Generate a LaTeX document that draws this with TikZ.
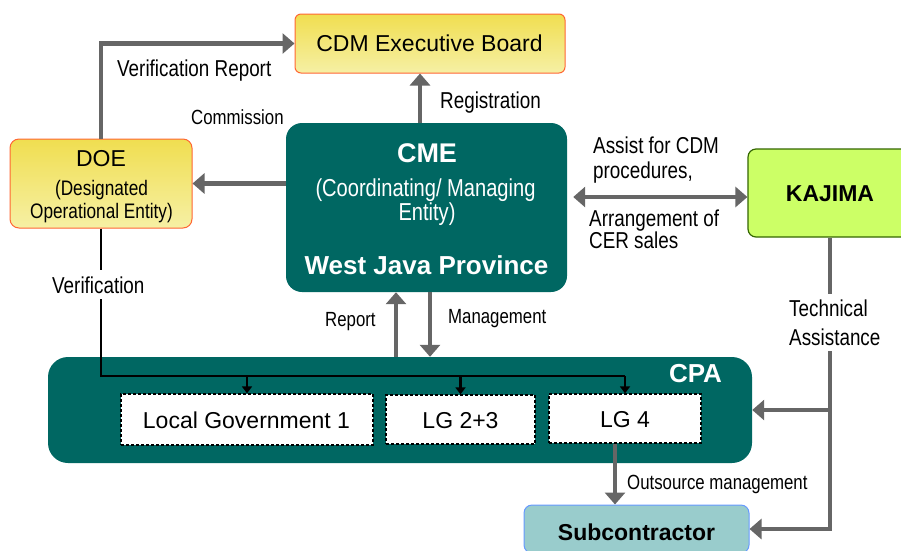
\documentclass[tikz,border=0pt]{standalone}
\usepackage{fontspec}
\setmainfont{Liberation Sans}
\newfontfamily\narrowfont[FakeStretch=0.82]{Liberation Sans}
\usetikzlibrary{arrows.meta,calc}
\definecolor{cteal}{RGB}{0,103,98}
\definecolor{cgray}{RGB}{102,102,102}
\definecolor{yelTop}{RGB}{240,222,80}
\definecolor{yelBot}{RGB}{246,240,165}
\definecolor{orgBorder}{RGB}{255,102,51}
\definecolor{kfill}{RGB}{204,255,102}
\definecolor{kborder}{RGB}{51,102,0}
\definecolor{sfill}{RGB}{153,204,204}
\definecolor{sborder}{RGB}{102,153,255}
\begin{document}
\begin{tikzpicture}[x=1pt,y=-1pt,
  ybox/.style={draw=orgBorder, line width=1pt, top color=yelTop, bottom color=yelBot, inner sep=0pt},
  tealbox/.style={fill=cteal, draw=none, inner sep=0pt},
  kbox/.style={fill=kfill, draw=kborder, line width=1.2pt, rounded corners=8pt, inner sep=0pt},
  subbox/.style={fill=sfill, draw=sborder, line width=1pt, rounded corners=8pt, inner sep=0pt},
  lgbox/.style={fill=white, draw=black, line width=1.3pt, dash pattern=on 3pt off 2pt, inner sep=0pt},
  btxt/.style={inner sep=0pt, anchor=base, font=\fontsize{23}{27}\selectfont},
  bbold/.style={inner sep=0pt, anchor=base, font=\bfseries\fontsize{23}{27}\selectfont},
  ntxt/.style={inner sep=0pt, anchor=base, font=\narrowfont\fontsize{21}{25}\selectfont},
  lbl/.style={inner sep=0pt, anchor=base west, font=\narrowfont\fontsize{23}{27}\selectfont},
  slbl/.style={inner sep=0pt, anchor=base west, font=\narrowfont\fontsize{20.5}{24}\selectfont},
  garrow/.style={draw=cgray, line width=4.5pt, -{Triangle[width=20pt,length=12pt]}},
  gdouble/.style={draw=cgray, line width=4.5pt, {Triangle[width=20pt,length=12pt]}-{Triangle[width=20pt,length=12pt]}},
  gline/.style={draw=cgray, line width=4.5pt},
  barrow/.style={draw=black, line width=2.6pt, -{Triangle[width=10pt,length=7pt]}},
  bline/.style={draw=black, line width=2.6pt}
]
\useasboundingbox (0,0) rectangle (901,550);
\clip (0,0) rectangle (901,550);

% ---------- boxes ----------
\node[ybox, minimum width=270pt, minimum height=59pt, rounded corners=6pt] (cdm) at (430,43.5) {};
\node[ybox, minimum width=182pt, minimum height=89pt, rounded corners=9pt] (doe) at (101,183.5) {};
\node[tealbox, minimum width=281pt, minimum height=169pt, rounded corners=16pt] (cme) at (426.5,207.5) {};
\node[kbox, minimum width=164pt, minimum height=88pt] (kajima) at (830,193) {};
\node[tealbox, minimum width=704pt, minimum height=106pt, rounded corners=20pt] (cpa) at (400,410) {};
\node[lgbox, minimum width=252pt, minimum height=51pt] (lg1) at (247,419.5) {};
\node[lgbox, minimum width=149pt, minimum height=49pt] (lg23) at (460.5,419.5) {};
\node[lgbox, minimum width=152pt, minimum height=49pt] (lg4) at (625,418.5) {};
\node[subbox, minimum width=225pt, minimum height=48pt] (sub) at (636.5,529) {};

% ---------- texts in boxes ----------
\node[btxt] (cdmt) at (429.5,51.7) {CDM Executive Board};
\node[btxt] (doet) at (101,166.7) {DOE};
\node[ntxt] (doet2) at (101.5,195) {(Designated};
\node[ntxt] (doet3) at (101.5,218.5) {Operational Entity)};
\node[inner sep=0pt, anchor=base, text=white, font=\bfseries\fontsize{27}{31}\selectfont] (cmet) at (427,162.7) {CME};
\node[ntxt, text=white, font=\narrowfont\fontsize{24.5}{28}\selectfont] (cmet2) at (425.5,196) {(Coordinating/ Managing};
\node[ntxt, text=white, font=\narrowfont\fontsize{24.5}{28}\selectfont] (cmet3) at (427,220) {Entity)};
\node[inner sep=0pt, anchor=base, text=white, font=\bfseries\fontsize{26}{30}\selectfont] (cmet4) at (426.5,274) {West Java Province};
\node[bbold] (kajt) at (830,201.7) {KAJIMA};
\node[inner sep=0pt, anchor=base, text=white, font=\bfseries\fontsize{26}{30}\selectfont] (cpat) at (695.5,382.7) {CPA};
\node[btxt] (lg1t) at (246.5,428.3) {Local Government 1};
\node[btxt] (lg23t) at (460.5,428) {LG 2+3};
\node[btxt] (lg4t) at (625,427) {LG 4};
\node[bbold] (subt) at (636.5,540) {Subcontractor};

% ---------- connectors ----------
\draw[garrow] (doe.north) |- (cdm.west);
\draw[garrow] (cme.west |- doe.east) -- (doe.east);
\draw[garrow] (cme.north -| 420,0) -- (cdm.south -| 420,0);
\draw[gdouble] ([xshift=6pt]cme.east |- 0,197) -- (kajima.west |- 0,197);
\draw[garrow] (cpa.north -| 396,0) -- (cme.south -| 396,0);
\draw[garrow] (cme.south -| 430,0) -- (cpa.north -| 430,0);
\coordinate (vb) at (0,376);
\draw[bline] (doe.south) |- (lg4.north |- vb);
\draw[barrow] (lg4.north |- vb) -- (lg4.north);
\draw[barrow] (lg1.north |- vb) -- (lg1.north);
\draw[barrow] (lg23.north |- vb) -- (lg23.north);
\draw[garrow] (kajima.south) |- (sub.east);
\draw[garrow] (kajima.south |- cpa.east) -- (cpa.east);
\draw[garrow] (lg4.south -| 615,0) -- (sub.north -| 615,0);

% ---------- labels ----------
\node[lbl] (l1) at (117,76.7) {Verification Report};
\node[slbl] (l2) at (191,124) {Commission};
\node[lbl] (l3) at (440,108) {Registration};
\node[lbl] (l4) at (593,153) {Assist for CDM};
\node[lbl] (l5) at (593,178) {procedures,};
\node[lbl] (l6) at (589,226.7) {Arrangement of};
\node[lbl] (l7) at (589,248) {CER sales};
\node[lbl, fill=white, inner xsep=2pt, inner ysep=6pt] (l8) at (50,293) {Verification};
\node[slbl] (l9) at (325,326) {Report};
\node[slbl] (l10) at (448,323) {Management};
\node[lbl, fill=white, inner xsep=2pt, inner ysep=6pt] (l11) at (787,316.7) {Technical};
\node[lbl, fill=white, inner xsep=2pt, inner ysep=6pt] (l12) at (787,345) {Assistance};
\node[slbl] (l13) at (627,489) {Outsource management};
\end{tikzpicture}
\end{document}
